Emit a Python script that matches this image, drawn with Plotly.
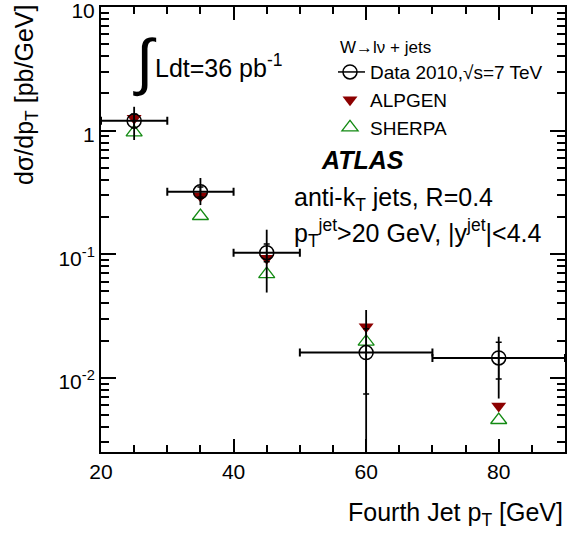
import plotly.graph_objects as go

# ---- data ----
pt_center = [25, 35, 45, 60, 80]
pt_halfwidth = [5, 5, 5, 10, 10]
data_xsec = [1.20, 0.32, 0.103, 0.0160, 0.0145]
data_tot_up = [0.36, 0.094, 0.055, 0.0194, 0.0070]
data_tot_dn = [0.36, 0.070, 0.054, 0.0150, 0.0077]
data_stat_up = [0.16, 0.03, 0.018, 0.0090, 0.0049]
data_stat_dn = [0.15, 0.03, 0.016, 0.0086, 0.0047]
alpgen = [1.26, 0.296, 0.093, 0.0259, 0.00592]
sherpa = [0.97, 0.204, 0.069, 0.0196, 0.00456]

x_ticks = [20, 40, 60, 80]
y_ticks = [0.01, 0.1, 1, 10]
y_ticktext = ["10<sup>-2</sup>", "10<sup>-1</sup>", "1", "10"]
y_minor = [k * 10.0 ** e for e in range(-3, 1) for k in range(2, 10)]
x_minor = list(range(20, 95, 5))

FONT = "Liberation Sans, Arial, Helvetica, sans-serif"
RED = "#8c0000"
GREEN = "#138a13"

fig = go.Figure()

fig.add_trace(go.Scatter(
    x=pt_center, y=sherpa, mode="markers", showlegend=False,
    marker=dict(symbol="triangle-up-open", size=14, color=GREEN, line=dict(width=1.3, color=GREEN)),
    cliponaxis=True))
fig.add_trace(go.Scatter(
    x=pt_center, y=alpgen, mode="markers", showlegend=False,
    marker=dict(symbol="triangle-down", size=13, color=RED, line=dict(width=0)),
    cliponaxis=True))
# stat error ticks
fig.add_trace(go.Scatter(
    x=pt_center, y=data_xsec, mode="markers", showlegend=False,
    marker=dict(size=1, color="rgba(0,0,0,0)"),
    error_y=dict(type="data", symmetric=False, array=data_stat_up, arrayminus=data_stat_dn,
                 color="black", thickness=1.5, width=3),
    cliponaxis=True))
# data with total errors
fig.add_trace(go.Scatter(
    x=pt_center, y=data_xsec, mode="markers", showlegend=False,
    marker=dict(symbol="circle-open", size=14, color="black", line=dict(width=1.5, color="black")),
    error_x=dict(type="data", array=pt_halfwidth, color="black", thickness=2, width=4),
    error_y=dict(type="data", symmetric=False, array=data_tot_up, arrayminus=data_tot_dn,
                 color="black", thickness=1.8, width=0),
    cliponaxis=True))

# legend-only entries
fig.add_trace(go.Scatter(
    x=[None], y=[None], mode="lines+markers", name="Data 2010,\u221As=7 TeV",
    marker=dict(symbol="circle-open", size=14, color="black", line=dict(width=1.5)),
    line=dict(color="black", width=1.5)))
fig.add_trace(go.Scatter(
    x=[None], y=[None], mode="markers", name="ALPGEN",
    marker=dict(symbol="triangle-down", size=13, color=RED)))
fig.add_trace(go.Scatter(
    x=[None], y=[None], mode="markers", name="SHERPA",
    marker=dict(symbol="triangle-up-open", size=14, color=GREEN, line=dict(width=1.3, color=GREEN))))

# invisible trace to carry the mirrored (top/right) tick axes
fig.add_trace(go.Scatter(
    x=[pt_center[0]], y=[data_xsec[0]], xaxis="x2", yaxis="y2", mode="markers",
    marker=dict(size=1, color="rgba(0,0,0,0)"), showlegend=False, hoverinfo="skip"))

W, H = 568, 540
L, R, T, B = 101, 3, 7, 88
pw = W - L - R
ph = H - T - B


def px(x):
    return (x - L) / pw


def py(y):
    return (H - B - y) / ph


YR = [-2.6, 1.0005]
XR = [20, 90]
tick_common = dict(ticks="inside", tickwidth=1.5, tickcolor="black", showgrid=False, zeroline=False,
                   automargin=False)

fig.update_layout(
    width=W, height=H,
    margin=dict(l=L, r=R, t=T, b=B, pad=0, autoexpand=False),
    paper_bgcolor="white", plot_bgcolor="white",
    font=dict(family=FONT, color="black", size=18),
    showlegend=True,
    legend=dict(
        x=px(338), y=py(31), xanchor="left", yanchor="top",
        bgcolor="rgba(0,0,0,0)", borderwidth=0,
        font=dict(family=FONT, size=19, color="black"),
        title=dict(text="W\u2192l\u03bd + jets", font=dict(family=FONT, size=17)),
        tracegroupgap=0, itemwidth=30, indentation=-8,
    ),
    xaxis=dict(
        range=XR, tickmode="array", tickvals=x_ticks, ticklen=13,
        showline=True, linecolor="black", linewidth=2, mirror=True,
        tickfont=dict(family=FONT, size=21), ticklabeloverflow="allow",
        minor=dict(ticks="inside", ticklen=7, tickwidth=1.5, tickcolor="black", tickmode="array",
                   tickvals=x_minor, showgrid=False),
        **tick_common,
    ),
    yaxis=dict(
        type="log", range=YR, tickmode="array", tickvals=y_ticks, ticktext=y_ticktext, ticklen=15,
        showline=True, linecolor="black", linewidth=2, mirror=True,
        tickfont=dict(family=FONT, size=21), ticklabeloverflow="allow", ticklabelshift=4,
        minor=dict(ticks="inside", ticklen=8, tickwidth=1.5, tickcolor="black", tickmode="array",
                   tickvals=y_minor, showgrid=False),
        **tick_common,
    ),
    xaxis2=dict(
        overlaying="x", side="top", range=XR, tickmode="array", tickvals=x_ticks, ticklen=13,
        showticklabels=False, showline=False,
        minor=dict(ticks="inside", ticklen=7, tickwidth=1.5, tickcolor="black", tickmode="array",
                   tickvals=x_minor, showgrid=False),
        **tick_common,
    ),
    yaxis2=dict(
        overlaying="y", side="right", type="log", range=YR, tickmode="array", tickvals=y_ticks, ticklen=15,
        showticklabels=False, showline=False,
        minor=dict(ticks="inside", ticklen=8, tickwidth=1.5, tickcolor="black", tickmode="array",
                   tickvals=y_minor, showgrid=False),
        **tick_common,
    ),
)

ann = []
ann.append(dict(text="\u222B", x=px(145), y=py(62), xanchor="center", yanchor="middle",
                font=dict(family=FONT, size=62)))
ann.append(dict(text="Ldt=36 pb<sup>-1</sup>", x=px(153), y=py(66), xanchor="left", yanchor="middle",
                font=dict(family=FONT, size=25)))
ann.append(dict(text="<b><i>ATLAS</i></b>", x=px(362), y=py(160), xanchor="center", yanchor="middle",
                font=dict(family=FONT, size=25)))
ann.append(dict(text="anti-k<sub>T</sub> jets, R=0.4", x=px(292), y=py(199), xanchor="left", yanchor="middle",
                font=dict(family=FONT, size=25)))
ann.append(dict(text="p<sub>T</sub><sup>jet</sup>&gt;20 GeV, |y<sup>jet</sup>|&lt;4.4", x=px(292), y=py(233),
                xanchor="left", yanchor="middle", font=dict(family=FONT, size=25)))
ann.append(dict(text="Fourth Jet p<sub>T</sub> [GeV]", x=1.0, y=py(496), xanchor="right", yanchor="top",
                font=dict(family=FONT, size=25)))
ann.append(dict(text="d\u03c3/dp<sub>T</sub> [pb/GeV]", x=px(26), y=py(3), xanchor="center", yanchor="top",
                textangle=-90, font=dict(family=FONT, size=25)))
for a in ann:
    a.update(xref="paper", yref="paper", showarrow=False)
fig.update_layout(annotations=ann)

fig.write_html("out.html", config={"displayModeBar": False},
               post_script="document.body.style.margin='0px';")
